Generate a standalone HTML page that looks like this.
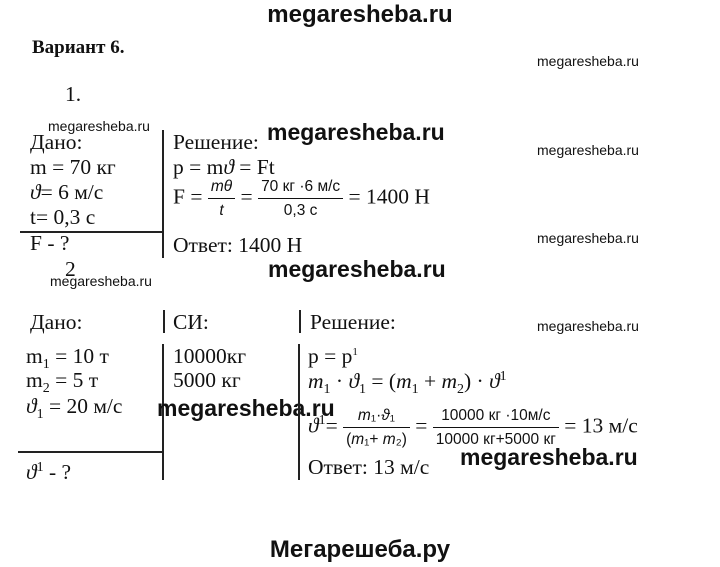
<!DOCTYPE html>
<html><head><meta charset="utf-8"><style>
body{margin:0;width:720px;height:567px;background:#fff;position:relative;overflow:hidden;font-family:"Liberation Serif",serif;color:#111}
.a{position:absolute;white-space:nowrap;line-height:1}
.s{font-size:21.5px}
.wm{font-family:"Liberation Sans",sans-serif;font-size:14px}
.wb{font-family:"Liberation Sans",sans-serif;font-weight:bold;font-size:23px}
.v{position:absolute;width:2px;background:#222}
.h{position:absolute;height:2px;background:#222}
.fr{display:inline-block;vertical-align:middle;text-align:center;font-size:15.5px;font-family:"Liberation Sans",sans-serif}
.fr span{display:block;padding:0 3px}
.fr .n{border-bottom:1px solid #111;padding-bottom:3px}
.fr .d{padding-top:4px}
i{font-style:italic}
sub,sup{vertical-align:0;position:relative;font-size:14px;line-height:0}
sub{top:5px}
sup{top:-8px}
</style></head><body>
<div class="a wb" style="left:0;width:720px;text-align:center;top:3px;font-size:24px">megaresheba.ru</div>
<div class="a" style="left:32px;top:38px;font-size:19px;font-weight:bold">Вариант 6.</div>
<div class="a wm" style="left:537px;top:54px">megaresheba.ru</div>
<div class="a s" style="left:65px;top:84px">1.</div>

<div class="a wm" style="left:48px;top:119px">megaresheba.ru</div>
<div class="a s" style="left:30px;top:132px">Дано:</div>
<div class="a s" style="left:30px;top:157px">m = 70 кг</div>
<div class="a s" style="left:30px;top:182px"><i>ϑ</i>= 6 м/с</div>
<div class="a s" style="left:30px;top:207px">t= 0,3 с</div>
<div class="a s" style="left:30px;top:233px">F - ?</div>
<div class="v" style="left:162px;top:130px;height:128px"></div>
<div class="h" style="left:20px;top:231px;width:143px"></div>
<div class="a s" style="left:173px;top:132px">Решение:</div>
<div class="a wb" style="left:267px;top:121px">megaresheba.ru</div>
<div class="a wm" style="left:537px;top:143px">megaresheba.ru</div>
<div class="a s" style="left:173px;top:157px">p = m<i>ϑ</i> = Ft</div>
<div class="a s" style="left:173px;top:179px">F = <span class="fr"><span class="n"><i>mθ</i></span><span class="d"><i>t</i></span></span> = <span class="fr"><span class="n">70 кг ·6 м/с</span><span class="d">0,3 с</span></span> = 1400 Н</div>
<div class="a s" style="left:173px;top:235px">Ответ: 1400 Н</div>
<div class="a wm" style="left:537px;top:231px">megaresheba.ru</div>
<div class="a s" style="left:65px;top:259px">2</div>
<div class="a wb" style="left:268px;top:258px">megaresheba.ru</div>
<div class="a wm" style="left:50px;top:274px">megaresheba.ru</div>

<div class="a s" style="left:30px;top:312px">Дано:</div>
<div class="v" style="left:163px;top:310px;height:23px"></div>
<div class="a s" style="left:173px;top:312px">СИ:</div>
<div class="v" style="left:299px;top:310px;height:23px"></div>
<div class="a s" style="left:310px;top:312px">Решение:</div>
<div class="a wm" style="left:537px;top:319px">megaresheba.ru</div>

<div class="a s" style="left:26px;top:346px">m<sub>1</sub> = 10 т</div>
<div class="a s" style="left:26px;top:370px">m<sub>2</sub> = 5 т</div>
<div class="a s" style="left:26px;top:396px"><i>ϑ</i><sub>1</sub> = 20 м/с</div>
<div class="h" style="left:18px;top:451px;width:145px"></div>
<div class="a s" style="left:26px;top:462px"><i>ϑ</i><sup>1</sup> - ?</div>
<div class="v" style="left:162px;top:344px;height:136px"></div>
<div class="a s" style="left:173px;top:346px">10000кг</div>
<div class="a s" style="left:173px;top:370px">5000 кг</div>
<div class="a wb" style="left:157px;top:397px">megaresheba.ru</div>
<div class="v" style="left:298px;top:344px;height:136px"></div>
<div class="a s" style="left:308px;top:346px">p = p<sup style="font-size:11px">1</sup></div>
<div class="a s" style="left:308px;top:371px"><i>m</i><sub>1</sub> · <i>ϑ</i><sub>1</sub> = (<i>m</i><sub>1</sub> + <i>m</i><sub>2</sub>) · <i>ϑ</i><sup>1</sup></div>
<div class="a s" style="left:308px;top:408px"><i>ϑ</i><sup>1</sup>= <span class="fr"><span class="n"><i>m</i>₁·<i>ϑ</i>₁</span><span class="d">(<i>m</i>₁+ <i>m</i>₂)</span></span> = <span class="fr"><span class="n">10000 кг ·10м/с</span><span class="d">10000 кг+5000 кг</span></span> = 13 м/с</div>
<div class="a s" style="left:308px;top:457px">Ответ: 13 м/с</div>
<div class="a wb" style="left:460px;top:446px">megaresheba.ru</div>

<div class="a wb" style="left:0;width:720px;text-align:center;top:538px;font-size:24px">Мегарешеба.ру</div>
</body></html>
